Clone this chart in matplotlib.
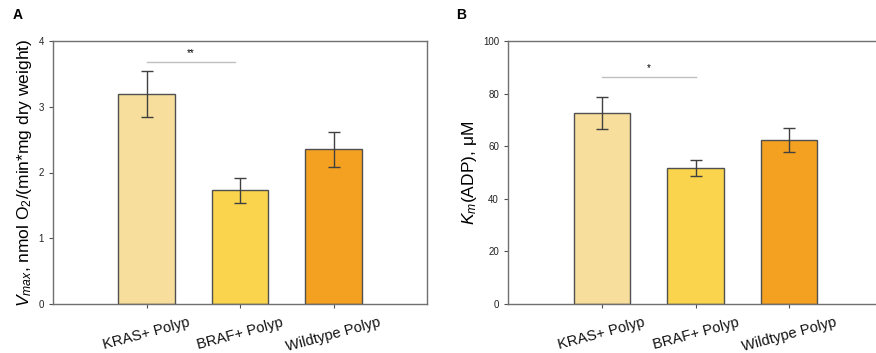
import matplotlib.pyplot as plt

plt.rcParams['font.family'] = ['Liberation Sans', 'DejaVu Sans']
plt.rcParams['mathtext.fontset'] = 'custom'
plt.rcParams['mathtext.rm'] = 'Liberation Sans'
plt.rcParams['mathtext.it'] = 'Liberation Sans:italic'

groups = ["KRAS+ Polyp", "BRAF+ Polyp", "Wildtype Polyp"]
colors = ["#f8de9c", "#f9d44c", "#f4a020"]

vmax = [3.19, 1.73, 2.35]
vmax_err = [0.35, 0.19, 0.27]

km = [72.7, 51.6, 62.5]
km_err = [6.1, 3.0, 4.6]

fig = plt.figure(figsize=(8.76, 3.53), dpi=100)
W, H = 876, 353

def panel(left, right, vals, errs, ymax, yticks, ylabel, sig_y, sig_txt, sig_x2, letter, lx):
    ax = fig.add_axes([left / W, 1 - 304 / H, (right - left) / W, (304 - 41) / H])
    x = range(len(groups))
    ax.bar(x, vals, width=0.6, color=colors, edgecolor="#505050", linewidth=1.0, zorder=2)
    ax.errorbar(x, vals, yerr=errs, fmt="none", ecolor="#404040", elinewidth=1.0,
                capsize=4, capthick=1.0, zorder=3)
    ax.plot([0, sig_x2], [sig_y, sig_y], color="#c0c0c0", lw=1.0)
    ax.text((0 + sig_x2) / 2, sig_y + ymax * 0.015, sig_txt, ha="center", va="bottom", fontsize=7)
    ax.set_xlim(-1, 3)
    ax.set_ylim(0, ymax)
    ax.set_yticks(yticks)
    ax.set_xticks(list(x))
    ax.set_xticklabels(groups, rotation=15, fontsize=10.5, ha="center")
    ax.tick_params(axis="y", labelsize=7, length=3, width=0.8, colors="#505050", labelcolor="#222222")
    ax.tick_params(axis="x", length=3, width=0.8, colors="#505050", labelcolor="#111111", pad=5)
    for s in ax.spines.values():
        s.set_color("#707070")
        s.set_linewidth(1.0)
    ax.set_ylabel(ylabel, fontsize=12.5, labelpad=3)
    fig.text(lx / W, 1 - 15 / H, letter, fontsize=10, fontweight="bold", va="center", ha="center")
    return ax

panel(53, 427, vmax, vmax_err, 4, [0, 1, 2, 3, 4],
      r"$V_{max}$, nmol O$_2$/(min*mg dry weight)", 3.68, "**", 0.95, "A", 18)
panel(508, 883, km, km_err, 100, [0, 20, 40, 60, 80, 100],
      r"$K_m$(ADP), $\mathrm{\mu}$M", 86.3, "*", 1.0, "B", 461)

fig.savefig("out.png", dpi=100)
